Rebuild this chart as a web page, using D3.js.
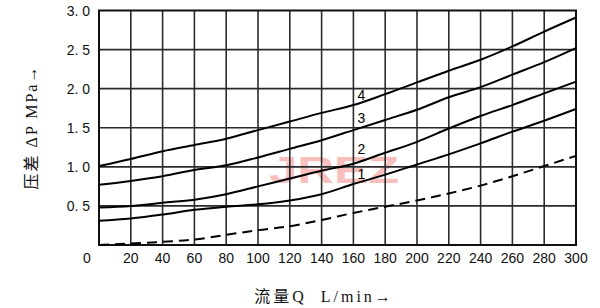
<!DOCTYPE html>
<html><head><meta charset="utf-8">
<script src="https://cdn.jsdelivr.net/npm/d3@7"></script>
<style>body{margin:0;background:#fff}svg{display:block}</style>
</head><body>
<svg id="c" width="600" height="308"></svg>
<script>
const flowQ = [0,20,40,60,80,100,120,140,160,180,200,220,240,260,280,300];
const curve4 = [1.01,1.10,1.20,1.28,1.36,1.47,1.58,1.69,1.79,1.93,2.08,2.23,2.37,2.54,2.73,2.91];
const curve3 = [0.77,0.82,0.88,0.96,1.02,1.12,1.23,1.34,1.47,1.60,1.73,1.89,2.02,2.18,2.34,2.52];
const curve2 = [0.48,0.50,0.54,0.58,0.65,0.75,0.85,0.95,1.04,1.18,1.32,1.49,1.65,1.79,1.94,2.09];
const curve1 = [0.31,0.34,0.39,0.45,0.49,0.52,0.57,0.65,0.78,0.90,1.03,1.16,1.30,1.45,1.59,1.74];
const curveDashed = [0.00,0.02,0.04,0.07,0.13,0.19,0.24,0.32,0.41,0.49,0.57,0.66,0.76,0.88,1.01,1.14];
const xTicks = [20,40,60,80,100,120,140,160,180,200,220,240,260,280,300];
const gridX = [20,40,60,80,100,120,140,160,180,200,220,240,260,280];
const gridY = [0.5,1.0,1.5,2.0,2.5];
const yTicks = [0.5,1.0,1.5,2.0,2.5,3.0];
const yTickLabels = ["0. 5","1. 0","1. 5","2. 0","2. 5","3. 0"];
const curveLabels = ["4","3","2","1"];
const labelValues = [1.92,1.62,1.23,0.91];
const labelQ = 165;

const svg = d3.select("#c");
const x = d3.scaleLinear().domain([0,300]).range([99,576]);
const y = d3.scaleLinear().domain([0,3]).range([245,10.5]);
const SANS = "Liberation Sans, Arial, sans-serif";

// watermark
svg.append("text").attr("x",334).attr("y",183).attr("text-anchor","middle")
  .attr("font-family",SANS).attr("font-weight","bold")
  .attr("font-size",36).attr("fill","#f6a5a5").attr("opacity",0.7)
  .attr("textLength",130).attr("lengthAdjust","spacingAndGlyphs").text("JREZ");

// grid: each line a path from the line generator
const seg = d3.line().x(p=>x(p[0])).y(p=>y(p[1]));
gridX.forEach(q=>{
  svg.append("path").attr("d",seg([[q,0],[q,3]])).attr("fill","none")
    .attr("stroke","#2b2b2b").attr("stroke-width",1.6);
});
gridY.forEach(v=>{
  svg.append("path").attr("d",seg([[0,v],[300,v]])).attr("fill","none")
    .attr("stroke","#2b2b2b").attr("stroke-width",1.6);
});

svg.append("path").attr("d",seg([[0,0],[300,0],[300,3],[0,3],[0,0]])+"Z").attr("fill","none")
  .attr("stroke","#111").attr("stroke-width",2);

// curves
const line = d3.line().x((d,i)=>x(flowQ[i])).y(d=>y(d)).curve(d3.curveMonotoneX);
[curve4,curve3,curve2,curve1].forEach(c=>{
  svg.append("path").attr("d",line(c)).attr("fill","none").attr("stroke","#000").attr("stroke-width",2);
});
svg.append("path").attr("d",line(curveDashed)).attr("fill","none").attr("stroke","#000")
  .attr("stroke-width",2).attr("stroke-dasharray","10,6");

// curve labels
curveLabels.forEach((t,i)=>{
  svg.append("text").attr("x",x(labelQ)).attr("y",y(labelValues[i])).attr("text-anchor","middle")
    .attr("dominant-baseline","central").attr("font-family",SANS)
    .attr("font-size",14).attr("fill","#000").text(t);
});

// y tick labels
yTicks.forEach((v,i)=>{
  svg.append("text").attr("x",90).attr("y",y(v)).attr("text-anchor","end")
    .attr("dominant-baseline","central").attr("font-family",SANS)
    .attr("font-size",14).attr("fill","#111").text(yTickLabels[i]);
});
// x tick labels
xTicks.forEach(v=>{
  svg.append("text").attr("x",x(v)).attr("y",257.5).attr("text-anchor","middle")
    .attr("dominant-baseline","central").attr("font-family",SANS)
    .attr("font-size",14).attr("fill","#111").text(v);
});
svg.append("text").attr("x",x(0)-12).attr("y",258).attr("text-anchor","middle")
  .attr("dominant-baseline","central").attr("font-family",SANS)
  .attr("font-size",14).attr("fill","#111").text("0");

// axis titles
svg.append("text").attr("x",324).attr("y",296).attr("text-anchor","middle")
  .attr("dominant-baseline","central").attr("font-family","Liberation Serif, Noto Sans CJK SC, serif")
  .attr("font-size",16).attr("letter-spacing",3).attr("fill","#111").attr("xml:space","preserve").text("流量Q  L/min→");
svg.append("text").attr("transform","translate(31,127) rotate(-90)").attr("text-anchor","middle")
  .attr("dominant-baseline","central").attr("font-family","Liberation Serif, Noto Sans CJK SC, serif")
  .attr("font-size",16).attr("letter-spacing",2).attr("fill","#111").text("压差 ΔP MPa→");
</script>
</body></html>
